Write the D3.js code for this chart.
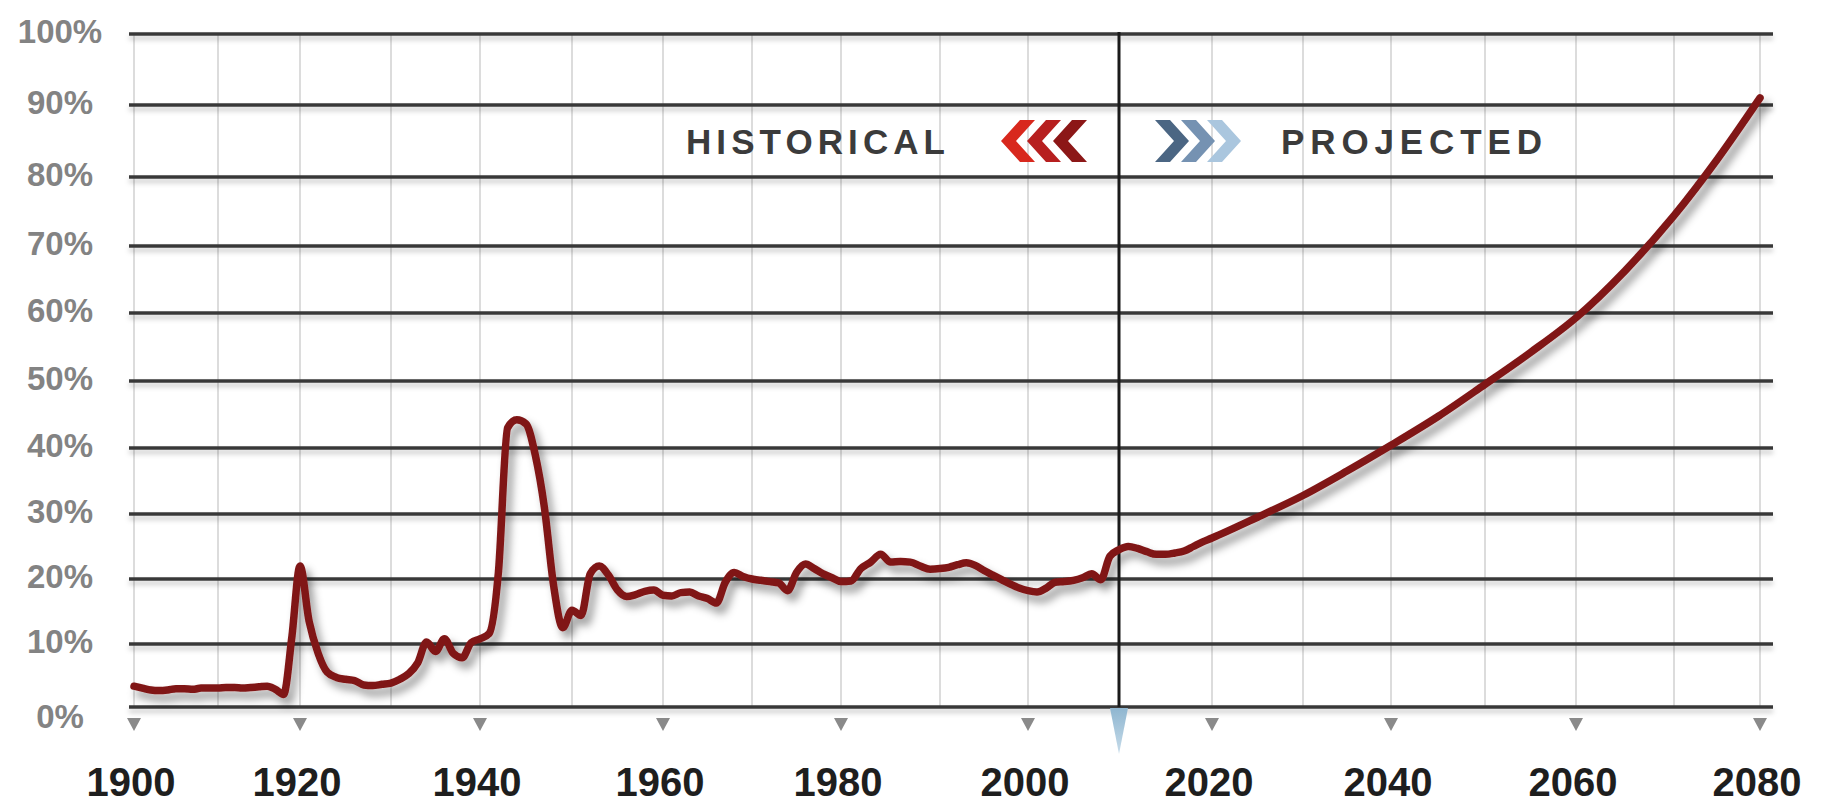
<!DOCTYPE html>
<html>
<head>
<meta charset="utf-8">
<script src="https://cdn.jsdelivr.net/npm/d3@7"></script>
<style>
  html, body { margin: 0; padding: 0; background: #fff; }
  #wrapper { width: 1829px; height: 806px; overflow: hidden; }
</style>
</head>
<body>
<div id="wrapper"></div>
<script>
const LINE_COLOR = "#801717";
const GRID_COLOR = "#383838";
const VGRID_COLOR = "#dcdcdc";
const YLABEL_COLOR = "#838383";
const XLABEL_COLOR = "#1e1e1e";
const TICK_COLOR = "#8a8a8a";

// historical series, one value per year starting at histStartYear
const histStartYear = 1900;
const histValues = [
  3.3, 3.0, 2.7, 2.6, 2.7, 2.9, 2.9, 2.8, 3.0, 3.0,        // 1900s
  3.0, 3.1, 3.1, 3.0, 3.1, 3.2, 3.3, 2.8, 2.0, 11.0,       // 1910s
  22.0, 13.5, 8.5, 5.5, 4.7, 4.4, 4.2, 3.5, 3.4, 3.6,      // 1920s
  3.8, 4.4, 5.3, 7.0, 10.3, 8.8, 10.8, 8.5, 7.8, 10.2,     // 1930s
  10.8, 11.6, 21.0, 43.0, 44.2, 43.6, 39.0, 31.0, 19.0, 12.5, // 1940s
  15.2, 14.4, 20.8, 22.0, 20.6, 18.3, 17.3, 17.6, 18.1, 18.3, // 1950s
  17.5, 17.4, 17.9, 18.0, 17.4, 17.0, 16.3, 19.5, 21.0, 20.4, // 1960s
  20.0, 19.8, 19.6, 19.4, 18.2, 21.0, 22.3, 21.6, 20.8, 20.2, // 1970s
  19.6, 19.7, 21.6, 22.6, 23.8, 22.6, 22.7, 22.6, 22.0, 21.5, // 1980s
  21.6, 21.8, 22.2, 22.5, 22.1, 21.3, 20.6, 19.9, 19.2, 18.6, // 1990s
  18.2, 18.0, 18.6, 19.5, 19.6, 19.8, 20.2, 20.8, 19.9, 23.5, // 2000s
  24.5                                                      // 2010
];

// projected series
const projYears = [2010, 2011, 2012, 2013, 2014, 2015, 2016, 2017, 2018, 2019,
  2020, 2025, 2030, 2035, 2040, 2045, 2050, 2055, 2060, 2065, 2070, 2075, 2080];
const projValues = [24.5, 25.0, 24.7, 24.2, 23.8, 23.8, 24.0, 24.3, 25.0, 25.7,
  26.3, 29.5, 32.8, 36.5, 40.4, 44.7, 49.5, 54.2, 59.3, 66.3, 74.4, 82.4, 91.0];

const xTicks = [1900, 1920, 1940, 1960, 1980, 2000, 2020, 2040, 2060, 2080];
const gridYears = [1900, 1910, 1920, 1930, 1940, 1950, 1960, 1970, 1980, 1990,
  2000, 2010, 2020, 2030, 2040, 2050, 2060, 2070, 2080];
const yTicks = [0, 10, 20, 30, 40, 50, 60, 70, 80, 90, 100];
const splitYear = 2010;
const histLabel = "HISTORICAL";
const projLabel = "PROJECTED";

// the source grid is slightly uneven, so the scales are piecewise
const xStops = [134, 218, 300, 391, 480, 572, 663, 752, 841, 940,
  1028, 1119, 1212, 1303, 1391, 1485, 1576, 1674, 1760];
const yStops = [707, 644, 579, 514, 448, 381, 313, 246, 177, 105, 34];

function drawChart() {
  const dimensions = { width: 1829, height: 806 };

  const histData = histValues.map((v, i) => ({ year: histStartYear + i, value: v }));
  const projData = projYears.map((y, i) => ({ year: y, value: projValues[i] }));
  const data = histData.concat(projData.slice(1));

  const xScale = d3.scaleLinear().domain(gridYears).range(xStops);
  const yScale = d3.scaleLinear().domain(yTicks).range(yStops);

  const svg = d3.select("#wrapper")
    .append("svg")
    .attr("width", dimensions.width)
    .attr("height", dimensions.height)
    .style("font-family", "'Liberation Sans', Arial, sans-serif");

  const defs = svg.append("defs");
  defs.append("filter").attr("id", "lineShadow")
    .attr("x", "-10%").attr("y", "-10%").attr("width", "130%").attr("height", "130%")
    .append("feDropShadow")
    .attr("dx", 5).attr("dy", 7).attr("stdDeviation", 4)
    .attr("flood-color", "#000").attr("flood-opacity", 0.4);
  defs.append("filter").attr("id", "gridShadow")
    .attr("x", "-5%").attr("y", "-200%").attr("width", "110%").attr("height", "600%")
    .append("feDropShadow")
    .attr("dx", 0).attr("dy", 4).attr("stdDeviation", 2.5)
    .attr("flood-color", "#000").attr("flood-opacity", 0.22);
  defs.append("filter").attr("id", "soft")
    .attr("x", "-200%").attr("width", "500%")
    .append("feGaussianBlur").attr("stdDeviation", 2.2);
  const blueGrad = defs.append("linearGradient").attr("id", "blueGrad")
    .attr("x1", 0).attr("y1", 0).attr("x2", 0).attr("y2", 1);
  blueGrad.append("stop").attr("offset", "0%").attr("stop-color", "#8fb6d0");
  blueGrad.append("stop").attr("offset", "100%").attr("stop-color", "#c7dcea");

  const top = yScale(100);
  const bottom = yScale(0);
  const left = xScale(1900) - 5;
  const right = xScale(2080) + 13;

  // vertical grid
  const vGrid = svg.append("g");
  vGrid.selectAll("line.wide")
    .data(gridYears.filter(y => (y - 1900) % 20 === 0))
    .join("line")
    .attr("x1", d => xScale(d)).attr("x2", d => xScale(d))
    .attr("y1", top).attr("y2", bottom)
    .attr("stroke", "#e3e3e3")
    .attr("stroke-width", 11)
    .attr("filter", "url(#soft)");
  vGrid.selectAll("line.thin")
    .data(gridYears)
    .join("line")
    .attr("x1", d => xScale(d)).attr("x2", d => xScale(d))
    .attr("y1", top).attr("y2", bottom)
    .attr("stroke", VGRID_COLOR)
    .attr("stroke-width", 2);

  // horizontal grid
  svg.append("g")
    .attr("filter", "url(#gridShadow)")
    .selectAll("line")
    .data(yTicks)
    .join("line")
    .attr("x1", left).attr("x2", right)
    .attr("y1", d => yScale(d)).attr("y2", d => yScale(d))
    .attr("stroke", GRID_COLOR)
    .attr("stroke-width", 3.5);

  // historical / projected divider
  svg.append("line")
    .attr("x1", xScale(splitYear)).attr("x2", xScale(splitYear))
    .attr("y1", top - 2).attr("y2", bottom)
    .attr("stroke", "#1a1a1a")
    .attr("stroke-width", 3);
  svg.append("path")
    .attr("d", `M${xScale(splitYear) - 9},${bottom + 1} L${xScale(splitYear) + 9},${bottom + 1} L${xScale(splitYear)},${bottom + 47} Z`)
    .attr("fill", "url(#blueGrad)");

  // tick markers
  svg.append("g")
    .selectAll("path")
    .data(xTicks)
    .join("path")
    .attr("d", d => `M${xScale(d) - 7},${bottom + 11} L${xScale(d) + 7},${bottom + 11} L${xScale(d)},${bottom + 24} Z`)
    .attr("fill", TICK_COLOR);

  // data line
  const lineGenerator = d3.line()
    .x(d => xScale(d.year))
    .y(d => yScale(d.value))
    .curve(d3.curveMonotoneX);

  svg.append("path")
    .datum(data)
    .attr("d", lineGenerator)
    .attr("fill", "none")
    .attr("stroke", LINE_COLOR)
    .attr("stroke-width", 7.5)
    .attr("stroke-linejoin", "round")
    .attr("stroke-linecap", "round")
    .attr("filter", "url(#lineShadow)");

  // y labels
  svg.append("g")
    .selectAll("text")
    .data(yTicks)
    .join("text")
    .attr("x", 60)
    .attr("y", d => yScale(d) + (d === 0 ? 9 : -3))
    .attr("dy", "0.36em")
    .attr("text-anchor", "middle")
    .attr("fill", YLABEL_COLOR)
    .style("font-size", "33px")
    .style("font-weight", "bold")
    .text(d => d + "%");

  // x labels
  svg.append("g")
    .selectAll("text")
    .data(xTicks)
    .join("text")
    .attr("x", d => xScale(d) - 3)
    .attr("y", 796)
    .attr("text-anchor", "middle")
    .attr("fill", XLABEL_COLOR)
    .style("font-size", "40px")
    .style("font-weight", "bold")
    .text(d => d);

  // legend: HISTORICAL <<<  >>> PROJECTED
  const legendY = 141;
  svg.append("text")
    .attr("x", 686).attr("y", legendY + 13)
    .attr("textLength", 259).attr("lengthAdjust", "spacing")
    .attr("fill", "#3b3b3b")
    .style("font-family", "'Liberation Sans Narrow', 'Liberation Sans', sans-serif")
    .style("font-weight", "bold")
    .style("font-size", "35px")
    .text(histLabel);
  svg.append("text")
    .attr("x", 1281).attr("y", legendY + 13)
    .attr("textLength", 261).attr("lengthAdjust", "spacing")
    .attr("fill", "#3b3b3b")
    .style("font-family", "'Liberation Sans Narrow', 'Liberation Sans', sans-serif")
    .style("font-weight", "bold")
    .style("font-size", "35px")
    .text(projLabel);

  const chevronLeft = "0,0 19,-21 34,-21 15,0 34,21 19,21";
  const chevronRight = "0,0 -19,-21 -34,-21 -15,0 -34,21 -19,21";
  const redShades = ["#d8281d", "#b71f1f", "#8c1717"];
  const blueShades = ["#4b6683", "#7592b2", "#aac6de"];

  svg.append("g")
    .selectAll("polygon")
    .data(redShades)
    .join("polygon")
    .attr("points", chevronLeft)
    .attr("transform", (d, i) => `translate(${1001 + i * 26},${legendY})`)
    .attr("fill", d => d);
  svg.append("g")
    .selectAll("polygon")
    .data(blueShades)
    .join("polygon")
    .attr("points", chevronRight)
    .attr("transform", (d, i) => `translate(${1189 + i * 26},${legendY})`)
    .attr("fill", d => d);
}

drawChart();
</script>
</body>
</html>
